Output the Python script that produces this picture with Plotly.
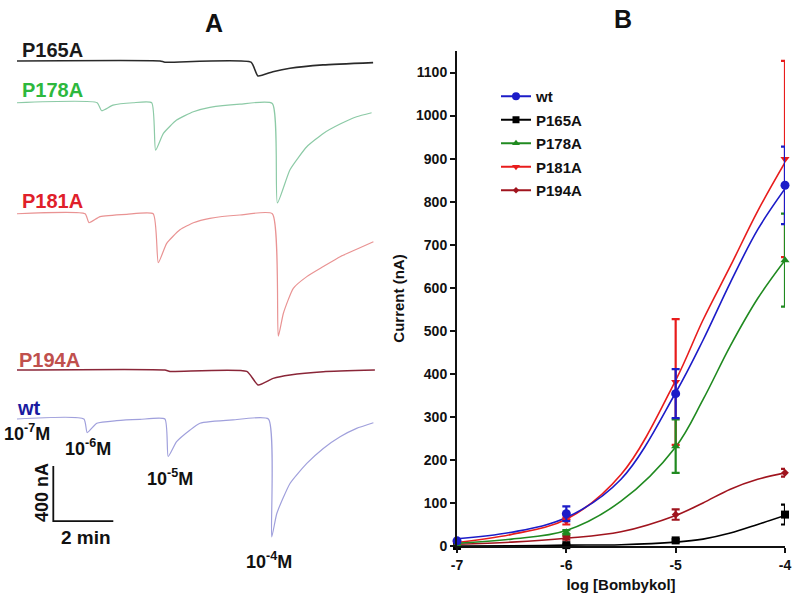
import plotly.graph_objects as go

FONT = "Liberation Sans, Arial, sans-serif"

# ---------------- Panel B data (dose-response) ----------------
log_conc = [-7, -6, -5, -4]

wt_mean = [12, 75, 354, 838]
wt_err = [4, 17, 57, 90]
p165_mean = [0, 2, 13, 73]
p165_err = [0, 2, 3, 23]
p178_mean = [4, 32, 232, 664]
p178_err = [2, 5, 62, 108]
p181_mean = [6, 58, 381, 899]
p181_err = [3, 8, 146, 228]
p194_mean = [3, 19, 73, 170]
p194_err = [1, 4, 12, 9]

# fitted curves
curve_x = [-7, -6.5, -6, -5.5, -5, -4.75, -4.5, -4.25, -4]
wt_curve = [17, 32, 66, 155, 356, 478, 612, 735, 830]
p165_curve = [0, 0.5, 2, 3, 9, 16, 30, 50, 71]
p178_curve = [6, 16, 36, 104, 230, 340, 465, 575, 664]
p181_curve = [8, 27, 62, 166, 385, 525, 650, 778, 891]
p194_curve = [4, 9, 18, 33, 71, 100, 132, 155, 170]

# ---------------- Panel A data (current traces, t in min, I in nA) ----------------
p165_t = [0, 4.77, 4.93, 7.8, 8.03, 8.53, 9.1, 10.2, 11.87]
p165_i = [0, 0, -9, -9, -109, -78, -53, -29, -12]

p178_t = [0, 2.67, 2.82, 3.2, 3.87, 4.49, 4.62, 4.88, 5.32, 5.88, 6.43, 7.43, 8.51,
          8.68, 9.1, 9.66, 10.21, 10.77, 11.32, 11.82]
p178_i = [0, 0, -58, -17, 0, 0, -345, -223, -126, -65, -33, -10, -5,
          -728, -487, -320, -223, -155, -102, -73]

p181_t = [0, 2.27, 2.4, 2.77, 3.66, 4.54, 4.71, 4.99, 5.43, 5.88, 6.43, 7.43, 8.51,
          8.71, 8.88, 9.21, 9.66, 10.21, 10.77, 11.32, 11.88]
p181_i = [0, 0, -65, -21, -4, 0, -356, -215, -117, -65, -33, -9, 0,
          -890, -723, -542, -457, -384, -312, -258, -203]

p194_t = [0, 4.93, 5.1, 7.66, 8.04, 8.54, 9.1, 10.21, 11.93]
p194_i = [0, 0, -10, -10, -109, -61, -36, -12, 0]

wt_t = [0, 2.23, 2.34, 2.66, 3.32, 4.1, 4.93, 5.04, 5.32, 5.77, 6.1, 7.2, 8.38,
        8.49, 8.66, 9.1, 9.66, 10.21, 10.77, 11.32, 11.88]
wt_i = [0, 0, -99, -31, -12, -3, 0, -273, -165, -80, -31, -7, 0,
        -858, -687, -469, -323, -214, -129, -68, -27]

scale_min = 2      # minutes
scale_nA = 400     # nA

# ---------------- layout constants ----------------
NA_PER_PX = 7.27
trace_offset = {"P165A": -443, "P178A": -747, "P181A": -1554, "P194A": -2690, "wt": -3046}
scale_origin = (1.21, -3788)

col_b = {"wt": "#1c1cc8", "P165A": "#000000", "P178A": "#208a20",
         "P181A": "#e81c1c", "P194A": "#a0141e"}
sym_b = {"wt": "circle", "P165A": "square", "P178A": "triangle-up",
         "P181A": "triangle-down", "P194A": "diamond"}
size_b = {"wt": 9, "P165A": 8, "P178A": 8, "P181A": 8, "P194A": 6}

trace_col = {"P165A": "#2a2a2a", "P178A": "#8ccaa6", "P181A": "#e99393",
             "P194A": "#8a2638", "wt": "#a0a0dc"}
trace_w = {"P165A": 1.6, "P178A": 1.2, "P181A": 1.2, "P194A": 1.5, "wt": 1.2}

fig = go.Figure()

# ---- Panel A traces ----
tracesA = [("P165A", p165_t, p165_i), ("P178A", p178_t, p178_i), ("P181A", p181_t, p181_i),
           ("P194A", p194_t, p194_i), ("wt", wt_t, wt_i)]
for name, t, i in tracesA:
    off = trace_offset[name]
    fig.add_trace(go.Scatter(x=t, y=[v + off for v in i], mode="lines",
                             line=dict(color=trace_col[name], width=trace_w[name],
                                       shape="spline", smoothing=0.5),
                             xaxis="x2", yaxis="y2", showlegend=False, hoverinfo="skip"))

# scale bar
sx, sy = scale_origin
fig.add_trace(go.Scatter(x=[sx, sx, sx + scale_min], y=[sy + scale_nA, sy, sy], mode="lines",
                         line=dict(color="#111111", width=1.8), xaxis="x2", yaxis="y2",
                         showlegend=False, hoverinfo="skip"))

# ---- Panel B ----
series = {
    "wt": (wt_mean, wt_err, wt_curve),
    "P165A": (p165_mean, p165_err, p165_curve),
    "P178A": (p178_mean, p178_err, p178_curve),
    "P181A": (p181_mean, p181_err, p181_curve),
    "P194A": (p194_mean, p194_err, p194_curve),
}
draw_order = ["P165A", "P194A", "P181A", "P178A", "wt"]
for name in draw_order:
    mean, err, curve = series[name]
    fig.add_trace(go.Scatter(x=curve_x, y=curve, mode="lines",
                             line=dict(color=col_b[name], width=1.6, shape="spline", smoothing=1.0),
                             showlegend=False, hoverinfo="skip", cliponaxis=False))
for name in draw_order:
    mean, err, curve = series[name]
    fig.add_trace(go.Scatter(x=log_conc, y=mean, mode="markers",
                             marker=dict(color=col_b[name], symbol=sym_b[name], size=size_b[name]),
                             error_y=dict(type="data", array=err, color=col_b[name],
                                          thickness=2.2, width=4),
                             showlegend=False, cliponaxis=False))
legend_order = ["wt", "P165A", "P178A", "P181A", "P194A"]
for rank, name in enumerate(legend_order):
    fig.add_trace(go.Scatter(x=[None], y=[None], mode="lines+markers", name=name,
                             line=dict(color=col_b[name], width=2),
                             marker=dict(color=col_b[name], symbol=sym_b[name], size=size_b[name] - 1),
                             legendgroup=name, legendrank=rank + 1))

W, H = 800, 598


def px(x, y):
    return x / W, 1 - y / H


annots = [
    ("A", 214, 23, 25, "#111111"),
    ("B", 623, 19, 25, "#111111"),
    ("P165A", 52, 50, 20, "#1a1a1a"),
    ("P178A", 52, 90, 20, "#2db83d"),
    ("P181A", 52, 201, 20, "#e0202a"),
    ("P194A", 49, 360, 20, "#c0504d"),
    ("wt", 29, 408, 20, "#1a1aa0"),
    ("10<sup>-7</sup>M", 27, 432, 18, "#111111"),
    ("10<sup>-6</sup>M", 88, 448, 18, "#111111"),
    ("10<sup>-5</sup>M", 170, 477, 18, "#111111"),
    ("10<sup>-4</sup>M", 269, 560, 18, "#111111"),
    ("2 min", 86, 537, 19, "#111111"),
]
annotations = []
for text, x, y, s, c in annots:
    ax, ay = px(x, y)
    annotations.append(dict(text=text, x=ax, y=ay, xref="paper", yref="paper",
                            xanchor="center", yanchor="middle", showarrow=False,
                            font=dict(family=FONT, size=s, color=c, weight="bold")))
ax, ay = px(42, 493)
annotations.append(dict(text="400 nA", x=ax, y=ay, xref="paper", yref="paper",
                        xanchor="center", yanchor="middle", showarrow=False, textangle=-90,
                        font=dict(family=FONT, size=18, color="#111111", weight="bold")))

axis_font = dict(family=FONT, size=14, color="#111111", weight="bold")

fig.update_layout(
    width=W, height=H,
    margin=dict(l=0, r=0, t=0, b=0, pad=0, autoexpand=False),
    paper_bgcolor="white", plot_bgcolor="rgba(0,0,0,0)",
    xaxis=dict(domain=[457 / W, 785 / W], range=[-7, -4], tickvals=log_conc,
               ticktext=["-7", "-6", "-5", "-4"], showline=True, linecolor="#111111",
               linewidth=2, ticks="outside", ticklen=5, tickwidth=2, tickcolor="#111111",
               showgrid=False, zeroline=False, tickfont=axis_font, automargin=False,
               title=dict(text="log [Bombykol]", font=dict(family=FONT, size=15, color="#111111",
                                                              weight="bold"), standoff=8)),
    yaxis=dict(domain=[(H - 546) / H, (H - 51) / H], range=[0, 1150],
               tickvals=list(range(0, 1101, 100)), showline=True, linecolor="#111111",
               linewidth=2, ticks="outside", ticklen=5, tickwidth=2, tickcolor="#111111",
               showgrid=False, zeroline=False, tickfont=axis_font, automargin=False,
               title=dict(text="Current (nA)", font=dict(family=FONT, size=15, color="#111111",
                                                            weight="bold"), standoff=8)),
    xaxis2=dict(domain=[0, 0.5], range=[-17 / 30, 383 / 30], visible=False, anchor="y2",
                automargin=False),
    yaxis2=dict(domain=[0, 1], range=[-H * NA_PER_PX, 0], visible=False, anchor="x2",
                automargin=False),
    legend=dict(x=496 / W, y=1 - 80 / H, xanchor="left", yanchor="top",
                font=dict(family=FONT, size=15, color="#111111", weight="bold"),
                tracegroupgap=1, bgcolor="rgba(0,0,0,0)"),
    annotations=annotations,
    showlegend=True,
)

fig.write_html("out.html", config={"displayModeBar": False},
               post_script="document.body.style.margin='0px';")
